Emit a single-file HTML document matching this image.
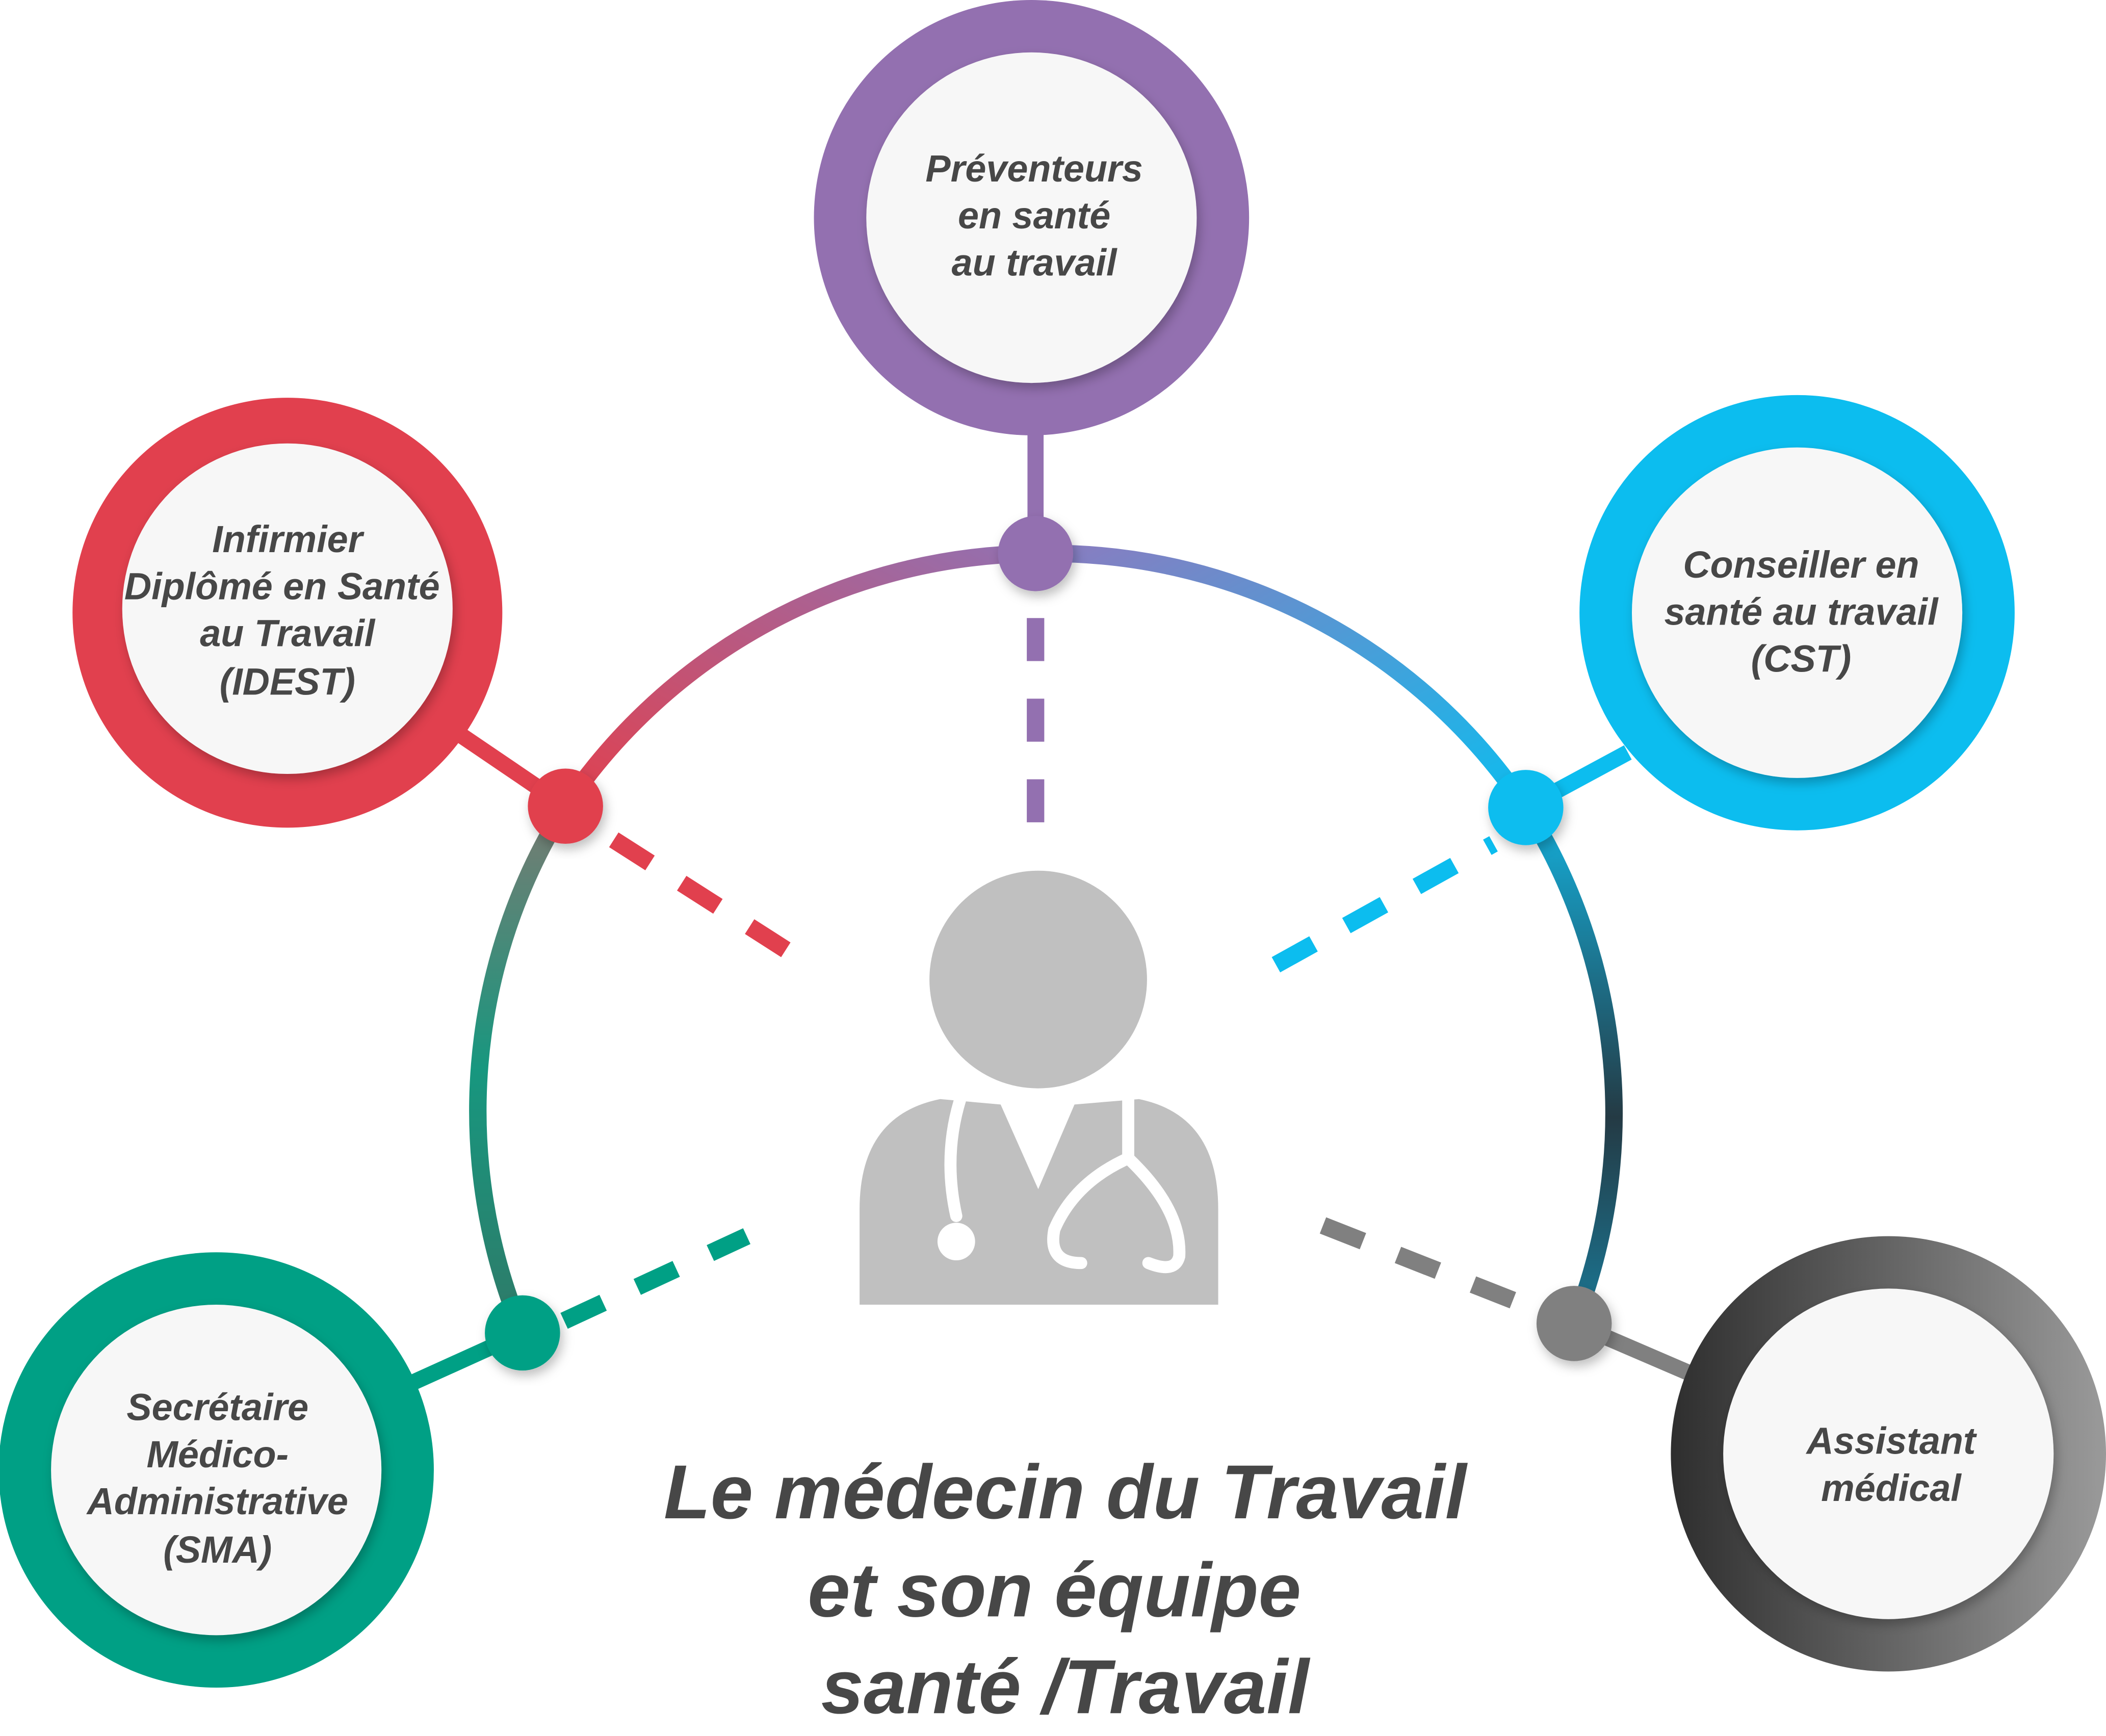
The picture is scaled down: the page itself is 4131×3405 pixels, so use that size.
<!DOCTYPE html>
<html><head><meta charset="utf-8"><style>
html,body{margin:0;padding:0;background:#fff;}
svg{display:block;}
text{font-family:"Liberation Sans",sans-serif;font-weight:bold;font-style:italic;fill:#474747;}
</style></head><body>
<svg width="4131" height="3405" viewBox="0 0 1568 1292" preserveAspectRatio="none" xmlns="http://www.w3.org/2000/svg">
<defs>
<linearGradient id="gG" x1="0" y1="1" x2="0" y2="0"><stop offset="0" stop-color="#2f7a68"/><stop offset="0.5" stop-color="#17977f"/><stop offset="1" stop-color="#7a7b72"/></linearGradient>
<linearGradient id="gRP" x1="0" y1="1" x2="1" y2="0"><stop offset="0" stop-color="#e1404e"/><stop offset="1" stop-color="#9370b0"/></linearGradient>
<linearGradient id="gPC" x1="0" y1="0" x2="1" y2="1"><stop offset="0" stop-color="#8a7cc0"/><stop offset="1" stop-color="#0cbdef"/></linearGradient>
<linearGradient id="gCD" x1="0" y1="0" x2="0" y2="1"><stop offset="0" stop-color="#14b0dc"/><stop offset="0.6" stop-color="#243a44"/><stop offset="1" stop-color="#1a7896"/></linearGradient>
<linearGradient id="gGray" x1="0" y1="0" x2="1" y2="0"><stop offset="0" stop-color="#2e2e2e"/><stop offset="1" stop-color="#9a9a9a"/></linearGradient>
<filter id="sh" x="-20%" y="-20%" width="140%" height="140%"><feDropShadow dx="2" dy="4" stdDeviation="4" flood-color="#000" flood-opacity="0.25"/></filter>
</defs>

<g fill="none" stroke-width="13">
<path d="M389,992 A427,427 0 0 1 421,600" stroke="url(#gG)"/>
<path d="M421,600 A427,427 0 0 1 771,412" stroke="url(#gRP)"/>
<path d="M771,412 A427,427 0 0 1 1136,601" stroke="url(#gPC)"/>
<path d="M1136,601 A427,427 0 0 1 1172,985" stroke="url(#gCD)"/>
</g>

<g stroke-width="12">
<line x1="771" y1="320" x2="771" y2="412" stroke="#9370b0"/>
<line x1="340" y1="545" x2="421" y2="600" stroke="#e1404e"/>
<line x1="1212" y1="560" x2="1136" y2="601" stroke="#0cbdef"/>
<line x1="305" y1="1030" x2="389" y2="992" stroke="#00a085"/>
<line x1="1172" y1="985" x2="1258" y2="1022" stroke="#808080"/>
</g>
<g stroke-width="13" stroke-dasharray="32,28">
<line x1="771" y1="460" x2="771" y2="614" stroke="#9370b0"/>
<line x1="457" y1="625" x2="590" y2="710" stroke="#e1404e"/>
<line x1="950" y1="718" x2="1112" y2="628" stroke="#0cbdef"/>
<line x1="420" y1="983" x2="556" y2="920" stroke="#00a085"/>
<line x1="985" y1="912" x2="1145" y2="975" stroke="#808080"/>
</g>

<circle cx="771" cy="412" r="28" fill="#9370b0" filter="url(#sh)"/>
<circle cx="421" cy="600" r="28" fill="#e1404e" filter="url(#sh)"/>
<circle cx="1136" cy="601" r="28" fill="#0cbdef" filter="url(#sh)"/>
<circle cx="389" cy="992" r="28" fill="#00a085" filter="url(#sh)"/>
<circle cx="1172" cy="985" r="28" fill="#808080" filter="url(#sh)"/>

<circle cx="768" cy="162" r="162" fill="#9370b0"/>
<circle cx="768" cy="162" r="123" fill="#f7f7f7" filter="url(#sh)"/>
<circle cx="214" cy="456" r="160" fill="#e1404e"/>
<circle cx="214" cy="453" r="123" fill="#f7f7f7" filter="url(#sh)"/>
<circle cx="1338" cy="456" r="162" fill="#0cbdef"/>
<circle cx="1338" cy="456" r="123" fill="#f7f7f7" filter="url(#sh)"/>
<circle cx="161" cy="1094" r="162" fill="#00a085"/>
<circle cx="161" cy="1094" r="123" fill="#f7f7f7" filter="url(#sh)"/>
<circle cx="1406" cy="1082" r="162" fill="url(#gGray)"/>
<circle cx="1406" cy="1082" r="123" fill="#f7f7f7" filter="url(#sh)"/>

<circle cx="773" cy="729" r="81" fill="#c0c0c0"/>
<path d="M640,971 L640,900 Q640,830 700,818 L745,822 L773,885 L800,822 L848,818 Q907,830 907,900 L907,971 Z" fill="#c0c0c0"/>
<g fill="none" stroke="#fff" stroke-width="9" stroke-linecap="round">
<path d="M715,818 Q702,860 712,905"/>
<circle cx="712" cy="924" r="14" fill="#fff" stroke="none"/>
<path d="M840,818 L840,862 Q800,880 785,915 Q780,940 805,940"/>
<path d="M840,862 Q880,900 878,935 Q875,948 855,940"/>
</g>

<g font-size="28" text-anchor="middle">
<text x="770" y="135">Préventeurs</text>
<text x="770" y="170">en santé</text>
<text x="770" y="205">au travail</text>
<text x="214" y="411">Infirmier</text>
<text x="210" y="446">Diplômé en Santé</text>
<text x="214" y="481">au  Travail</text>
<text x="214" y="517">(IDEST)</text>
<text x="1341" y="430">Conseiller en</text>
<text x="1341" y="465">santé au travail</text>
<text x="1341" y="500">(CST)</text>
<text x="162" y="1057">Secrétaire</text>
<text x="162" y="1092">Médico-</text>
<text x="162" y="1127">Administrative</text>
<text x="162" y="1163">(SMA)</text>
<text x="1408" y="1082">Assistant</text>
<text x="1408" y="1117">médical</text>
</g>
<g font-size="57" text-anchor="middle" fill="#4a4a4a">
<text x="793" y="1130">Le médecin du Travail</text>
<text x="785" y="1203">et son équipe</text>
<text x="793" y="1275">santé /Travail</text>
</g>
</svg>
</body></html>
